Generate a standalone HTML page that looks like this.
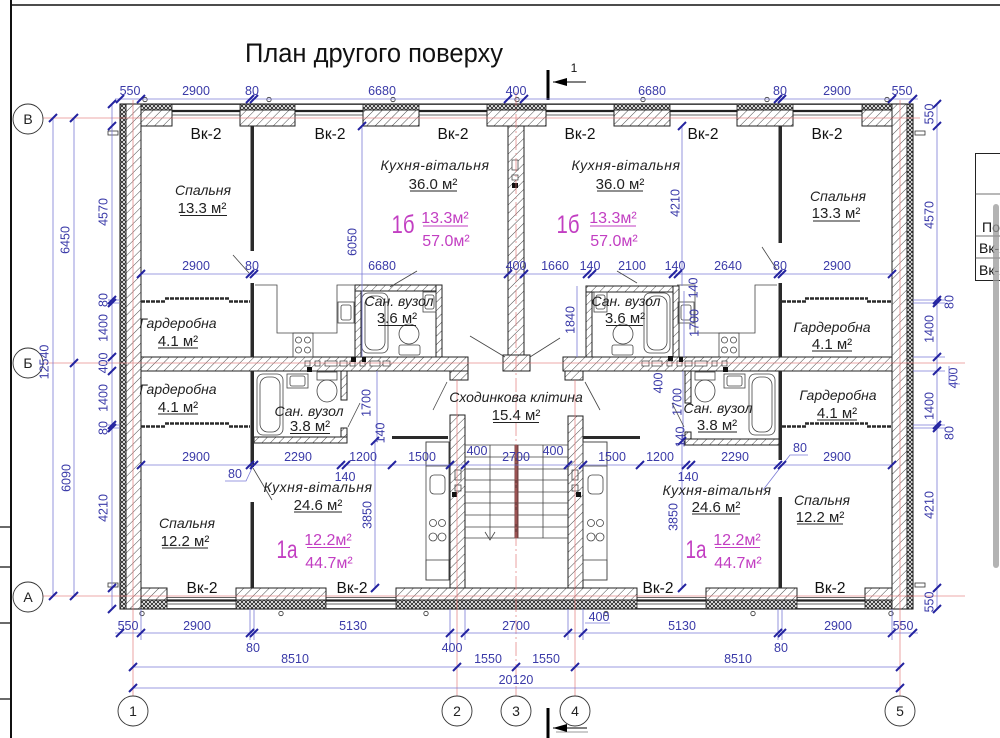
<!DOCTYPE html>
<html><head><meta charset="utf-8">
<style>
html,body{margin:0;padding:0;background:#fff;}
svg{display:block;}
text{font-family:"Liberation Sans",sans-serif;}
.d{fill:#3a3aa8;font-size:12.5px;text-anchor:middle;}
.r{font-style:italic;font-size:14px;fill:#222;text-anchor:middle;}
.a{font-size:15px;fill:#222;text-anchor:middle;}
.v{font-size:15.5px;fill:#111;text-anchor:middle;}
.m{fill:#c23ec2;text-anchor:middle;}
.w{fill:url(#h);stroke:#222;stroke-width:1;}
.i{fill:url(#x);stroke:#222;stroke-width:0.8;}
.p{fill:#2a2a2a;}
.f{fill:none;stroke:#444;stroke-width:0.8;}
.dl{stroke:#7b7bd6;stroke-width:0.8;fill:none;}
.tk{stroke:#2323a0;stroke-width:2;fill:none;}
.ax{stroke:#e07070;stroke-width:0.8;fill:none;opacity:0.8;}
.ul{stroke:#222;stroke-width:1;}
.um{stroke:#c23ec2;stroke-width:1;}
.ld{stroke:#444;stroke-width:0.8;fill:none;}
</style></head><body>
<svg width="1000" height="738" viewBox="0 0 1000 738" xmlns="http://www.w3.org/2000/svg">
<defs>
<pattern id="h" width="6" height="6" patternUnits="userSpaceOnUse" patternTransform="rotate(45)"><rect width="6" height="6" fill="#fff"/><line x1="0" y1="0" x2="0" y2="6" stroke="#4a4a4a" stroke-width="1"/></pattern>
<pattern id="x" width="4" height="4" patternUnits="userSpaceOnUse"><rect width="4" height="4" fill="#fff"/><path d="M0,0L4,4M4,0L0,4" stroke="#222" stroke-width="0.9"/></pattern>
</defs>
<rect width="1000" height="738" fill="#fff"/>

<!-- frame -->
<line x1="11" y1="0" x2="11" y2="738" stroke="#111" stroke-width="2"/>
<line x1="11" y1="5" x2="1000" y2="5" stroke="#111" stroke-width="1.6"/>
<path d="M0,527H11M0,567H11M0,623H11M0,699H11" stroke="#111" stroke-width="1.2"/>

<!-- title -->
<text x="245" y="62" font-size="27" fill="#111" textLength="258" lengthAdjust="spacingAndGlyphs">План другого поверху</text>

<!-- section marks -->
<rect x="546.5" y="70" width="3" height="30" fill="#000"/>
<line x1="553" y1="82" x2="586" y2="82" stroke="#000" stroke-width="0.9"/>
<polygon points="553,82 567,78 567,86" fill="#000"/>
<text x="574" y="72" font-size="12" fill="#111" text-anchor="middle">1</text>
<rect x="546.5" y="708" width="3" height="30" fill="#000"/>
<line x1="553" y1="728" x2="587" y2="728" stroke="#000" stroke-width="0.9"/>
<line x1="556" y1="732" x2="588" y2="732" stroke="#999" stroke-width="1"/>
<polygon points="553,728 567,724 567,732" fill="#000"/>

<!-- top piers -->
<g>
<rect class="w" x="120" y="110" width="52" height="16"/><rect class="i" x="120" y="104" width="52" height="6"/>
<rect class="w" x="240" y="110" width="55" height="16"/><rect class="i" x="240" y="104" width="55" height="6"/>
<rect class="w" x="363" y="110" width="56" height="16"/><rect class="i" x="363" y="104" width="56" height="6"/>
<rect class="w" x="487" y="110" width="59" height="16"/><rect class="i" x="487" y="104" width="59" height="6"/>
<rect class="w" x="614" y="110" width="56" height="16"/><rect class="i" x="614" y="104" width="56" height="6"/>
<rect class="w" x="737" y="110" width="56" height="16"/><rect class="i" x="737" y="104" width="56" height="6"/>
<rect class="w" x="862" y="110" width="51" height="16"/><rect class="i" x="862" y="104" width="51" height="6"/>
</g>
<!-- bottom piers -->
<g>
<rect class="w" x="120" y="588" width="47" height="12"/><rect class="i" x="120" y="600" width="47" height="9"/>
<rect class="w" x="236" y="588" width="90" height="12"/><rect class="i" x="236" y="600" width="90" height="9"/>
<rect class="w" x="396" y="588" width="241" height="12"/><rect class="i" x="396" y="600" width="241" height="9"/>
<rect class="w" x="706" y="588" width="91" height="12"/><rect class="i" x="706" y="600" width="91" height="9"/>
<rect class="w" x="865" y="588" width="48" height="12"/><rect class="i" x="865" y="600" width="48" height="9"/>
</g>
<!-- side walls -->
<rect class="w" x="126" y="104" width="15" height="505"/>
<rect class="i" x="120" y="104" width="6" height="505"/>
<rect class="w" x="892" y="104" width="15" height="505"/>
<rect class="i" x="907" y="104" width="6" height="505"/>
<rect x="120" y="104" width="793" height="505" fill="none" stroke="#222" stroke-width="1.1"/>

<!-- windows -->
<path d="M172,104.5H240M295,104.5H363M419,104.5H487M546,104.5H614M670,104.5H737M793,104.5H862M172,115H240M295,115H363M419,115H487M546,115H614M670,115H737M793,115H862" stroke="#333" stroke-width="0.8"/>
<path d="M172,111H240M295,111H363M419,111H487M546,111H614M670,111H737M793,111H862" stroke="#222" stroke-width="2.2"/>
<path d="M167,597.5H236M326,597.5H396M637,597.5H706M797,597.5H865M167,604H236M326,604H396M637,604H706M797,604H865M167,608.5H236M326,608.5H396M637,608.5H706M797,608.5H865" stroke="#333" stroke-width="0.8"/>
<path d="M167,600.5H236M326,600.5H396M637,600.5H706M797,600.5H865" stroke="#222" stroke-width="2.2"/>
<!-- window markers -->
<g fill="#fff" stroke="#333" stroke-width="0.8">
<circle cx="145" cy="99.5" r="2.2"/><circle cx="269" cy="99.5" r="2.2"/><circle cx="393" cy="99.5" r="2.2"/><circle cx="517" cy="99.5" r="2.2"/><circle cx="643" cy="99.5" r="2.2"/><circle cx="767" cy="99.5" r="2.2"/><circle cx="887" cy="99.5" r="2.2"/>
<circle cx="142" cy="613.5" r="2.2"/><circle cx="281" cy="613.5" r="2.2"/><circle cx="426" cy="613.5" r="2.2"/><circle cx="606" cy="613.5" r="2.2"/><circle cx="753" cy="613.5" r="2.2"/><circle cx="891" cy="613.5" r="2.2"/>
</g>
<!-- drainpipes -->
<g fill="#fff" stroke="#333" stroke-width="0.8">
<rect x="108" y="131" width="10" height="4"/><rect x="915" y="131" width="10" height="4"/>
<rect x="108" y="583" width="10" height="4"/><rect x="915" y="583" width="10" height="4"/>
</g>

<!-- interior bearing walls -->
<rect class="w" x="508" y="126" width="16" height="229"/>
<rect class="w" x="503" y="355" width="27" height="16"/>
<rect class="w" x="141" y="357" width="327" height="14"/>
<rect class="w" x="450" y="371" width="18" height="9"/>
<rect class="w" x="563" y="357" width="329" height="14"/>
<rect class="w" x="565" y="371" width="18" height="9"/>
<rect class="w" x="450" y="415" width="15" height="173"/>
<rect class="w" x="568" y="416" width="15" height="172"/>
<!-- bath walls -->
<rect class="w" x="355" y="285" width="6" height="72"/>
<rect class="w" x="355" y="285" width="87" height="6"/>
<rect class="w" x="436" y="285" width="6" height="72"/>
<rect class="w" x="586" y="286" width="6" height="71"/>
<rect class="w" x="586" y="286" width="93" height="6"/>
<rect class="w" x="673" y="286" width="6" height="71"/>
<rect class="w" x="341" y="371" width="6" height="29"/>
<rect class="w" x="341" y="428" width="6" height="15"/>
<rect class="w" x="254" y="437" width="93" height="6"/>
<rect class="w" x="685" y="371" width="6" height="32"/>
<rect class="w" x="685" y="432" width="6" height="13"/>
<rect class="w" x="685" y="439" width="95" height="6"/>

<!-- vents -->
<g fill="#fff" stroke="#333" stroke-width="0.7">
<rect x="512" y="160" width="6" height="10"/><rect x="512" y="175" width="6" height="5"/>
<rect x="305" y="361" width="5" height="5"/><rect x="315" y="361" width="5" height="5"/><rect x="325" y="361" width="12" height="5"/><rect x="340" y="361" width="7" height="5"/><rect x="350" y="361" width="5" height="5"/><rect x="360" y="361" width="5" height="5"/><rect x="370" y="361" width="10" height="5"/><rect x="383" y="361" width="7" height="5"/>
<rect x="642" y="361" width="7" height="5"/><rect x="652" y="361" width="10" height="5"/><rect x="667" y="361" width="5" height="5"/><rect x="677" y="361" width="5" height="5"/><rect x="685" y="361" width="7" height="5"/><rect x="695" y="361" width="12" height="5"/><rect x="712" y="361" width="5" height="5"/><rect x="722" y="361" width="5" height="5"/>
</g>
<g fill="#111">
<rect x="512" y="183" width="6" height="5"/>
<rect x="351" y="357" width="5" height="5"/><rect x="362" y="357" width="4" height="5"/><rect x="307" y="367" width="5" height="5"/>
<rect x="668" y="356" width="5" height="5"/><rect x="679" y="357" width="4" height="5"/><rect x="723" y="367" width="5" height="5"/>
</g>

<!-- partitions -->
<g class="p">
<rect x="250.5" y="126" width="3.5" height="125"/>
<rect x="250.5" y="283" width="3.5" height="74"/>
<rect x="250.5" y="371" width="3.5" height="96"/>
<rect x="250.5" y="502" width="3.5" height="86"/>
<rect x="778.5" y="126" width="3.5" height="117"/>
<rect x="778.5" y="283" width="3.5" height="74"/>
<rect x="778.5" y="371" width="3.5" height="89"/>
<rect x="778.5" y="497" width="3.5" height="91"/>
<rect x="392" y="436" width="56" height="3"/>
<rect x="583" y="436" width="57" height="3"/>
</g>
<!-- wardrobe sliding doors -->
<g stroke="#2a2a2a" stroke-width="2.4" fill="none" stroke-dasharray="4,1">
<path d="M141,301.5H166M165,298.5H230M229,301.5H250"/>
<path d="M141,426.5H166M165,423.5H230M229,426.5H250"/>
<path d="M782,301.5H806M805,298.5H868M867,301.5H892"/>
<path d="M782,426.5H806M805,423.5H868M867,426.5H892"/>
</g>

<!-- upper kitchens -->
<path class="f" d="M255,285H277V333H337V285H355"/>
<rect class="f" x="293" y="333" width="20" height="24"/>
<g class="f"><circle cx="298.5" cy="340" r="3"/><circle cx="307.5" cy="340" r="3"/><circle cx="298.5" cy="350" r="3"/><circle cx="307.5" cy="350" r="3"/></g>
<rect class="f" x="338" y="302" width="16" height="21"/><rect class="f" x="341" y="305" width="10" height="15" rx="2"/>
<path class="f" d="M777,285H755V333H695V285H677"/>
<rect class="f" x="719" y="333" width="20" height="24"/>
<g class="f"><circle cx="724.5" cy="340" r="3"/><circle cx="733.5" cy="340" r="3"/><circle cx="724.5" cy="350" r="3"/><circle cx="733.5" cy="350" r="3"/></g>
<rect class="f" x="678" y="302" width="16" height="21"/><rect class="f" x="681" y="305" width="10" height="15" rx="2"/>

<!-- bath fixtures -->
<g class="f">
<rect x="362" y="293" width="26" height="60" rx="6"/><rect x="365" y="296" width="20" height="54" rx="8"/>
<ellipse cx="409" cy="334" rx="10" ry="10"/><rect x="399" y="345" width="21" height="10" rx="2"/>
<rect x="423" y="292" width="13" height="20"/><rect x="425" y="295" width="9" height="14" rx="2"/>
<rect x="644" y="293" width="26" height="60" rx="6"/><rect x="647" y="296" width="20" height="54" rx="8"/>
<ellipse cx="623" cy="334" rx="10" ry="10"/><rect x="612" y="345" width="21" height="10" rx="2"/>
<rect x="594" y="292" width="13" height="20"/><rect x="596" y="295" width="9" height="14" rx="2"/>
<rect x="257" y="374" width="26" height="61" rx="6"/><rect x="260" y="377" width="20" height="55" rx="8"/>
<rect x="287" y="374" width="21" height="14"/><rect x="290" y="376" width="15" height="10" rx="2"/>
<rect x="317" y="372" width="20" height="8"/><ellipse cx="327" cy="391" rx="10" ry="11"/>
<rect x="749" y="374" width="26" height="61" rx="6"/><rect x="752" y="377" width="20" height="55" rx="8"/>
<rect x="724" y="374" width="21" height="14"/><rect x="727" y="376" width="15" height="10" rx="2"/>
<rect x="695" y="372" width="20" height="8"/><ellipse cx="705" cy="391" rx="10" ry="11"/>
</g>

<!-- stair kitchens -->
<g class="f">
<rect x="426" y="442" width="23" height="138"/><rect x="426" y="442" width="23" height="24"/>
<rect x="430" y="475" width="15" height="19" rx="4"/>
<circle cx="433" cy="523" r="3.5"/><circle cx="442" cy="523" r="3.5"/><circle cx="433" cy="537" r="4"/><circle cx="442" cy="537" r="4"/>
<rect x="426" y="560" width="23" height="20"/>
<rect x="455" y="470" width="6" height="10"/><rect x="455" y="485" width="6" height="6"/>
<rect x="583" y="442" width="24" height="138"/><rect x="583" y="442" width="24" height="24"/>
<rect x="588" y="475" width="15" height="19" rx="4"/>
<circle cx="591" cy="523" r="3.5"/><circle cx="600" cy="523" r="3.5"/><circle cx="591" cy="537" r="4"/><circle cx="600" cy="537" r="4"/>
<rect x="583" y="560" width="24" height="20"/>
<rect x="572" y="470" width="6" height="10"/><rect x="572" y="485" width="6" height="6"/>
</g>
<rect x="452" y="492" width="5" height="5" fill="#111"/><rect x="576" y="492" width="5" height="5" fill="#111"/>

<!-- stair -->
<path d="M465,445H568M465,457H568M465,469H568M465,480H568M465,492H568M465,503H568M465,515H568M465,527H568M465,538H568M490,445V538M543,445V538" stroke="#444" stroke-width="0.8" fill="none"/>
<path d="M485,532L490,540L495,532" stroke="#444" stroke-width="0.8" fill="none"/>
<rect x="514.5" y="445" width="4" height="93" fill="#7a4444"/>

<!-- axes -->
<g class="ax">
<path d="M42,118H920M42,363H965M42,596H965"/>
<path d="M133,100V696M900,100V696M457,380V696M575,380V696"/>
<path d="M516,92V696" stroke-dasharray="14,3,2,3"/>
</g>

<!-- axis bubbles -->
<g fill="#fff" stroke="#333" stroke-width="0.9">
<circle cx="28" cy="119" r="15"/><circle cx="28" cy="363" r="15"/><circle cx="28" cy="597" r="15"/>
<circle cx="133" cy="711" r="15"/><circle cx="457" cy="711" r="15"/><circle cx="516" cy="711" r="15"/><circle cx="575" cy="711" r="15"/><circle cx="900" cy="711" r="15"/>
</g>
<g font-size="14" fill="#222" text-anchor="middle">
<text x="28" y="124">В</text><text x="28" y="368">Б</text><text x="28" y="602">А</text>
<text x="133" y="716">1</text><text x="457" y="716">2</text><text x="516" y="716">3</text><text x="575" y="716">4</text><text x="900" y="716">5</text>
</g>

<!-- dimension lines -->
<g class="dl">
<path d="M115,99H918"/>
<path d="M141,274H892"/>
<path d="M141,465H892"/>
<path d="M115,633H918M133,667H900M133,688H900"/>
<path d="M53,118V596M74,118V596M112,104V609M937,104V609"/>
<path d="M362,126V357M682,126V286M577,286V357M377,371V441M375,441V588M682,441V588M683,371V441M684,291V357"/>
<path d="M141,609V640M250,609V640M254,609V640M450,609V652M465,609V640M568,609V640M583,609V640M778,609V640M782,609V640M892,609V640"/>
<path d="M913,300H945M913,303H945M913,357H945M913,371H945M913,425H945M913,428H945M108,300H120M108,303H120M108,425H120M108,428H120"/>
<path d="M585,623H610M225,481H246L253,466M808,455H790L763,490"/>
</g>
<!-- ticks -->
<path class="tk" d="M116,103L124,95M137,103L145,95M246,103L254,95M250,103L258,95M504,103L512,95M520,103L528,95M774,103L782,95M778,103L786,95M888,103L896,95M909,103L917,95
M137,278L145,270M246,278L254,270M250,278L258,270M504,278L512,270M520,278L528,270M583,278L591,270M588,278L596,270M669,278L677,270M674,278L682,270M774,278L782,270M778,278L786,270M888,278L896,270
M137,469L145,461M246,469L254,461M250,469L258,461M337,469L345,461M342,469L350,461M388,469L396,461M446,469L454,461M461,469L469,461M564,469L572,461M579,469L587,461M636,469L644,461M682,469L690,461M687,469L695,461M774,469L782,461M778,469L786,461M888,469L896,461
M116,637L124,629M137,637L145,629M246,637L254,629M250,637L258,629M446,637L454,629M461,637L469,629M564,637L572,629M579,637L587,629M774,637L782,629M778,637L786,629M888,637L896,629M909,637L917,629
M129,671L137,663M453,671L461,663M512,671L520,663M571,671L579,663M896,671L904,663M129,692L137,684M896,692L904,684
M49,122L57,114M49,600L57,592M70,122L78,114M70,367L78,359M70,600L78,592
M108,108L116,100M108,130L116,122M108,304L116,296M108,307L116,299M108,361L116,353M108,375L116,367M108,429L116,421M108,432L116,424M108,592L116,584M108,613L116,605
M933,108L941,100M933,130L941,122M933,304L941,296M933,307L941,299M933,361L941,353M933,375L941,367M933,429L941,421M933,432L941,424M933,592L941,584M933,613L941,605
M358,130L366,122M678,130L686,122M371,445L379,437M371,592L379,584M678,445L686,437M678,592L686,584"/>

<!-- dim texts horizontal -->
<g class="d">
<text x="130" y="95">550</text><text x="196" y="95">2900</text><text x="252" y="95">80</text><text x="382" y="95">6680</text><text x="516" y="95">400</text><text x="652" y="95">6680</text><text x="780" y="95">80</text><text x="837" y="95">2900</text><text x="902" y="95">550</text>
<text x="196" y="270">2900</text><text x="252" y="270">80</text><text x="382" y="270">6680</text><text x="516" y="270">400</text><text x="555" y="270">1660</text><text x="590" y="270">140</text><text x="632" y="270">2100</text><text x="675" y="270">140</text><text x="728" y="270">2640</text><text x="780" y="270">80</text><text x="837" y="270">2900</text>
<text x="196" y="461">2900</text><text x="298" y="461">2290</text><text x="363" y="461">1200</text><text x="422" y="461">1500</text><text x="477" y="455">400</text><text x="516" y="461">2700</text><text x="553" y="455">400</text><text x="612" y="461">1500</text><text x="660" y="461">1200</text><text x="735" y="461">2290</text><text x="837" y="461">2900</text>
<text x="235" y="478">80</text><text x="345" y="481">140</text><text x="688" y="481">140</text><text x="800" y="452">80</text>
<text x="128" y="630">550</text><text x="197" y="630">2900</text><text x="353" y="630">5130</text><text x="516" y="630">2700</text><text x="599" y="621">400</text><text x="682" y="630">5130</text><text x="838" y="630">2900</text><text x="903" y="630">550</text>
<text x="253" y="652">80</text><text x="452" y="652">400</text><text x="781" y="652">80</text>
<text x="295" y="663">8510</text><text x="488" y="663">1550</text><text x="546" y="663">1550</text><text x="738" y="663">8510</text>
<text x="516" y="684">20120</text>
</g>
<!-- dim texts rotated -->
<g class="d">
<text transform="translate(48.5,362) rotate(-90)">12540</text>
<text transform="translate(69.5,240) rotate(-90)">6450</text>
<text transform="translate(70.5,478) rotate(-90)">6090</text>
<text transform="translate(107.5,212) rotate(-90)">4570</text>
<text transform="translate(107.5,300) rotate(-90)">80</text>
<text transform="translate(107.5,328) rotate(-90)">1400</text>
<text transform="translate(107.5,363) rotate(-90)">400</text>
<text transform="translate(107.5,398) rotate(-90)">1400</text>
<text transform="translate(107.5,428) rotate(-90)">80</text>
<text transform="translate(107.5,508) rotate(-90)">4210</text>
<text transform="translate(933.5,114) rotate(-90)">550</text>
<text transform="translate(933.5,215) rotate(-90)">4570</text>
<text transform="translate(953.5,302) rotate(-90)">80</text>
<text transform="translate(933.5,329) rotate(-90)">1400</text>
<text transform="translate(957.5,378) rotate(-90)">400</text>
<text transform="translate(933.5,406) rotate(-90)">1400</text>
<text transform="translate(953.5,433) rotate(-90)">80</text>
<text transform="translate(933.5,505) rotate(-90)">4210</text>
<text transform="translate(933.5,602) rotate(-90)">550</text>
<text transform="translate(356.5,242) rotate(-90)">6050</text>
<text transform="translate(679.5,203) rotate(-90)">4210</text>
<text transform="translate(574.5,320) rotate(-90)">1840</text>
<text transform="translate(698.5,323) rotate(-90)">1700</text>
<text transform="translate(697.5,288) rotate(-90)">140</text>
<text transform="translate(662.5,383) rotate(-90)">400</text>
<text transform="translate(681.5,402) rotate(-90)">1700</text>
<text transform="translate(684.5,437) rotate(-90)">140</text>
<text transform="translate(370.5,403) rotate(-90)">1700</text>
<text transform="translate(384.5,433) rotate(-90)">140</text>
<text transform="translate(371.5,515) rotate(-90)">3850</text>
<text transform="translate(677.5,517) rotate(-90)">3850</text>
</g>
<path d="M949,366V384H960" stroke="#7b7bd6" stroke-width="0.8" fill="none"/>

<!-- leaders -->
<g class="ld">
<path d="M233,255L249,273"/><path d="M390,287L417,271"/><path d="M617,271L637,283"/><path d="M762,247L777,270"/>
<path d="M470,336L505,357"/><path d="M530,357L560,338"/><path d="M585,382L600,410"/><path d="M447,382L433,410"/>
<path d="M253,468L272,500"/><path d="M348,427L360,403"/><path d="M684,427L672,403"/>
</g>

<!-- Вк-2 -->
<g class="v">
<text x="206" y="139">Вк-2</text><text x="330" y="139">Вк-2</text><text x="453" y="139">Вк-2</text><text x="580" y="139">Вк-2</text><text x="703" y="139">Вк-2</text><text x="827" y="139">Вк-2</text>
<text x="202" y="593">Вк-2</text><text x="352" y="593">Вк-2</text><text x="658" y="593">Вк-2</text><text x="830" y="593">Вк-2</text>
</g>

<!-- room labels -->
<g class="r">
<text x="203" y="195">Спальня</text>
<text x="435" y="170" letter-spacing="0.5">Кухня-вітальня</text>
<text x="626" y="170" letter-spacing="0.5">Кухня-вітальня</text>
<text x="838" y="201">Спальня</text>
<text x="399" y="306">Сан. вузол</text>
<text x="626" y="306">Сан. вузол</text>
<text x="178" y="328">Гардеробна</text>
<text x="832" y="332">Гардеробна</text>
<text x="178" y="394">Гардеробна</text>
<text x="838" y="400">Гардеробна</text>
<text x="309" y="416">Сан. вузол</text>
<text x="718" y="413">Сан. вузол</text>
<text x="516" y="402">Сходинкова клітина</text>
<text x="318" y="492" letter-spacing="0.5">Кухня-вітальня</text>
<text x="717" y="495" letter-spacing="0.5">Кухня-вітальня</text>
<text x="187" y="528">Спальня</text>
<text x="822" y="505">Спальня</text>
</g>
<g class="a">
<text x="202" y="213">13.3 м²</text>
<text x="433" y="189">36.0 м²</text>
<text x="620" y="189">36.0 м²</text>
<text x="836" y="218">13.3 м²</text>
<text x="397" y="323">3.6 м²</text>
<text x="625" y="323">3.6 м²</text>
<text x="178" y="346">4.1 м²</text>
<text x="832" y="349">4.1 м²</text>
<text x="178" y="412">4.1 м²</text>
<text x="837" y="418">4.1 м²</text>
<text x="310" y="431">3.8 м²</text>
<text x="717" y="430">3.8 м²</text>
<text x="516" y="420">15.4 м²</text>
<text x="318" y="510">24.6 м²</text>
<text x="716" y="512">24.6 м²</text>
<text x="185" y="546">12.2 м²</text>
<text x="820" y="522">12.2 м²</text>
</g>
<g class="ul">
<path d="M180,215.5H227M410,191H457M597,191H643M813,221H860M378,325.5H416M606,325.5H643M158,348H198M812,351H852M158,414H198M817,420H857M290,433.5H330M698,432H737M493,422.5H539M294,512H342M692,514H740M162,548H208M797,524H843"/>
</g>

<!-- magenta apartment marks -->
<g class="m">
<text x="403" y="233" font-size="25" textLength="23" lengthAdjust="spacingAndGlyphs">1б</text>
<text x="445" y="223" font-size="16">13.3м²</text>
<text x="446" y="246" font-size="16">57.0м²</text>
<text x="568" y="233" font-size="25" textLength="23" lengthAdjust="spacingAndGlyphs">1б</text>
<text x="613" y="223" font-size="16">13.3м²</text>
<text x="614" y="246" font-size="16">57.0м²</text>
<text x="287" y="558" font-size="25" textLength="21" lengthAdjust="spacingAndGlyphs">1а</text>
<text x="328" y="545" font-size="16">12.2м²</text>
<text x="329" y="568" font-size="16">44.7м²</text>
<text x="696" y="558" font-size="25" textLength="21" lengthAdjust="spacingAndGlyphs">1а</text>
<text x="737" y="545" font-size="16">12.2м²</text>
<text x="738" y="568" font-size="16">44.7м²</text>
</g>
<g class="um">
<path d="M423,226H468M590,226H636M307,547.5H350M715,547.5H760"/>
</g>

<!-- right table -->
<rect x="975.5" y="153.5" width="40" height="127" fill="#fff" stroke="#222" stroke-width="1"/>
<path d="M975,194H1000M975,236H1000M975,258H1000" stroke="#444" stroke-width="0.8"/>
<g font-size="14" fill="#111">
<text x="982" y="232">Поз.</text>
<text x="979" y="253">Вк-2</text>
<text x="979" y="275">Вк-2</text>
</g>
<rect x="993" y="204" width="6" height="364" rx="3" fill="#999" opacity="0.75"/>
</svg>
</body></html>
